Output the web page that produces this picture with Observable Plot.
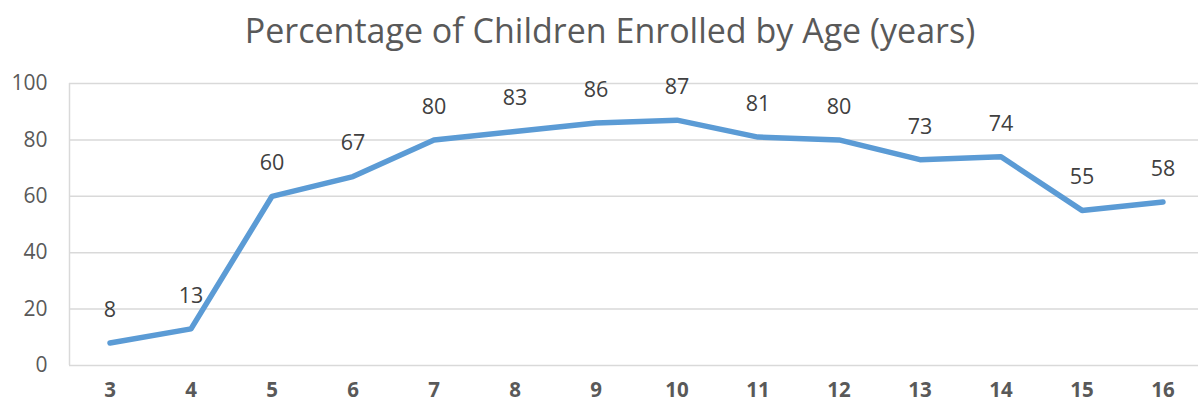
<!DOCTYPE html>
<html>
<head>
<meta charset="utf-8">
<script src="https://cdn.jsdelivr.net/npm/d3@7"></script>
<script src="https://cdn.jsdelivr.net/npm/@observablehq/plot@0.6"></script>
<style>
  html, body { margin: 0; padding: 0; background: #fff; }
  #title {
    height: 60px; line-height: 60px; text-align: center;
    font-family: "Open Sans", sans-serif; font-size: 34px; color: #595959;
    padding-left: 22px; box-sizing: border-box; width: 1198px;
  }
  #chart svg { display: block; }
</style>
</head>
<body>
<div id="title">Percentage of Children Enrolled by Age (years)</div>
<div id="chart"></div>
<script>
// Enrolment share by age in years
const ages = [3, 4, 5, 6, 7, 8, 9, 10, 11, 12, 13, 14, 15, 16];
const enrolled = [8, 13, 60, 67, 80, 83, 86, 87, 81, 80, 73, 74, 55, 58];
const yTicks = [0, 20, 40, 60, 80, 100];

const data = ages.map((age, i) => ({age, pct: enrolled[i]}));
const font = '"Open Sans", sans-serif';

const chart = Plot.plot({
  width: 1198,
  height: 348,
  marginTop: 23,
  marginBottom: 43,
  marginLeft: 69,
  marginRight: 0,
  style: {fontFamily: font, background: "#fff"},
  x: {type: "linear", domain: [2.5, 16.5], range: [69, 1203]},
  y: {domain: [0, 100]},
  marks: [
    Plot.ruleY(yTicks, {stroke: "#d9d9d9", strokeWidth: 1.5}),
    Plot.ruleX([2.5], {y1: 0, y2: 100, stroke: "#d9d9d9", strokeWidth: 1.5}),
    Plot.axisY({ticks: yTicks, tickSize: 0, tickPadding: 22, fontSize: 21, color: "#595959", label: null}),
    Plot.axisX({ticks: ages, tickSize: 0, tickPadding: 17, fontSize: 20.5, fontWeight: "bold", color: "#595959", label: null, tickFormat: d => String(d)}),
    Plot.line(data, {x: "age", y: "pct", stroke: "#5b9bd5", strokeWidth: 5.5, strokeLinecap: "round", strokeLinejoin: "round"}),
    Plot.text(data, {x: "age", y: "pct", text: d => String(d.pct), dy: -33, fontSize: 21.5, fill: "#404040", lineAnchor: "middle"})
  ]
});
document.getElementById("chart").appendChild(chart);
</script>
</body>
</html>
